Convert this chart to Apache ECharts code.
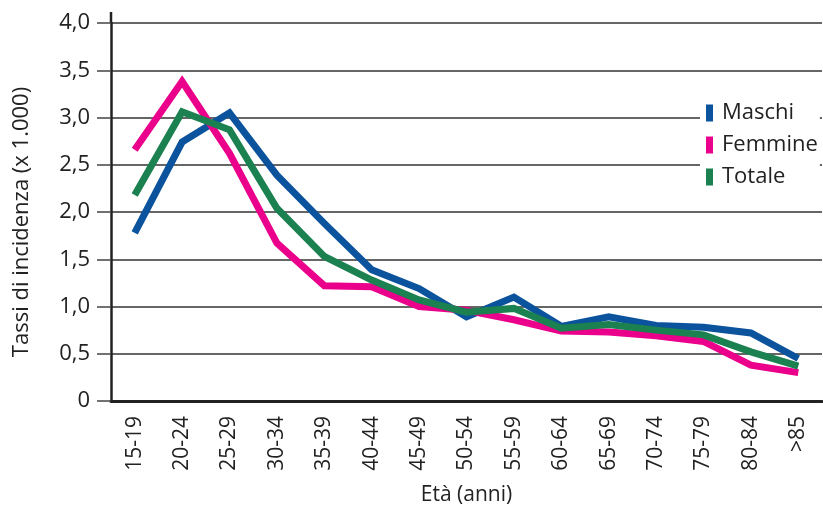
<!DOCTYPE html>
<html><head><meta charset="utf-8">
<script src="https://cdn.jsdelivr.net/npm/echarts@6/dist/echarts.min.js"></script>
<style>html,body{margin:0;padding:0;background:#fff}#c{width:823px;height:510px}</style>
</head><body><div id="c"></div>
<script>
const categories = ['15-19','20-24','25-29','30-34','35-39','40-44','45-49','50-54','55-59','60-64','65-69','70-74','75-79','80-84','>85'];
const maschi   = [1.78, 2.74, 3.05, 2.39, 1.88, 1.39, 1.19, 0.89, 1.10, 0.79, 0.89, 0.80, 0.78, 0.72, 0.45];
const femmine  = [2.66, 3.38, 2.62, 1.67, 1.22, 1.21, 1.00, 0.96, 0.86, 0.74, 0.73, 0.69, 0.63, 0.38, 0.30];
const totale   = [2.18, 3.06, 2.87, 2.04, 1.53, 1.28, 1.07, 0.94, 0.98, 0.77, 0.81, 0.75, 0.70, 0.52, 0.37];
const yTicks = [0, 0.5, 1, 1.5, 2, 2.5, 3, 3.5, 4];

const FONT = '"Open Sans"';
const chart = echarts.init(document.getElementById('c'), null, {renderer: 'canvas'});
function mk(name, data, color) {
  return {name, type: 'line', data, symbol: 'none', lineStyle: {width: 7, color, join: 'miter', cap: 'butt'}, itemStyle: {color}, z: 3};
}
chart.setOption({
  animation: false,
  textStyle: {fontFamily: FONT},
  grid: {left: 111, right: 1, top: 23, bottom: 109, containLabel: false, outerBoundsMode: 'none'},
  legend: {
    orient: 'vertical', left: 700, top: 98, icon: 'rect', itemWidth: 7, itemHeight: 17, itemGap: 10,
    backgroundColor: '#fff', padding: [4, 2, 6, 6],
    textStyle: {fontFamily: FONT, fontSize: 22, lineHeight: 22, color: '#222', padding: [0, 0, 0, 4]},
    data: ['Maschi', 'Femmine', 'Totale']
  },
  xAxis: {
    type: 'category', data: categories, boundaryGap: true,
    name: 'Età (anni)', nameLocation: 'middle', nameGap: 84,
    nameTextStyle: {fontFamily: FONT, fontSize: 21, color: '#222'},
    axisLine: {lineStyle: {color: '#222', width: 3}},
    axisTick: {show: false},
    axisLabel: {rotate: 90, fontFamily: FONT, fontSize: 21, color: '#222', margin: 15, interval: 0}
  },
  yAxis: {
    type: 'value', min: 0, max: 4, interval: 0.5,
    name: 'Tassi di incidenza (x 1.000)', nameLocation: 'middle', nameGap: 78,
    nameTextStyle: {fontFamily: FONT, fontSize: 22, color: '#222', padding: [0, 20, 0, 0]},
    axisLine: {show: true, lineStyle: {color: '#222', width: 2.5}},
    axisTick: {show: true, length: 14, lineStyle: {color: '#444', width: 1.5}},
    axisLabel: {fontFamily: FONT, fontSize: 22, color: '#222', margin: 21,
      formatter: v => v === 0 ? '0' : v.toFixed(1).replace('.', ',')},
    splitLine: {show: true, lineStyle: {color: '#333', width: 1.5}}
  },
  series: [mk('Maschi', maschi, '#0c539d'), mk('Femmine', femmine, '#ea008b'), mk('Totale', totale, '#1b8150')]
});
// extend y axis line slightly above the top tick
const yTopPx = chart.convertToPixel({yAxisIndex: 0}, yTicks[yTicks.length - 1]);
const c0 = chart.convertToPixel({xAxisIndex: 0}, categories[0]);
const c1 = chart.convertToPixel({xAxisIndex: 0}, categories[1]);
const axX = c0 - (c1 - c0) / 2;
chart.setOption({graphic: [{type: 'line', shape: {x1: axX, y1: yTopPx, x2: axX, y2: yTopPx - 11}, style: {stroke: '#222', lineWidth: 2.5}}]});
</script></body></html>
